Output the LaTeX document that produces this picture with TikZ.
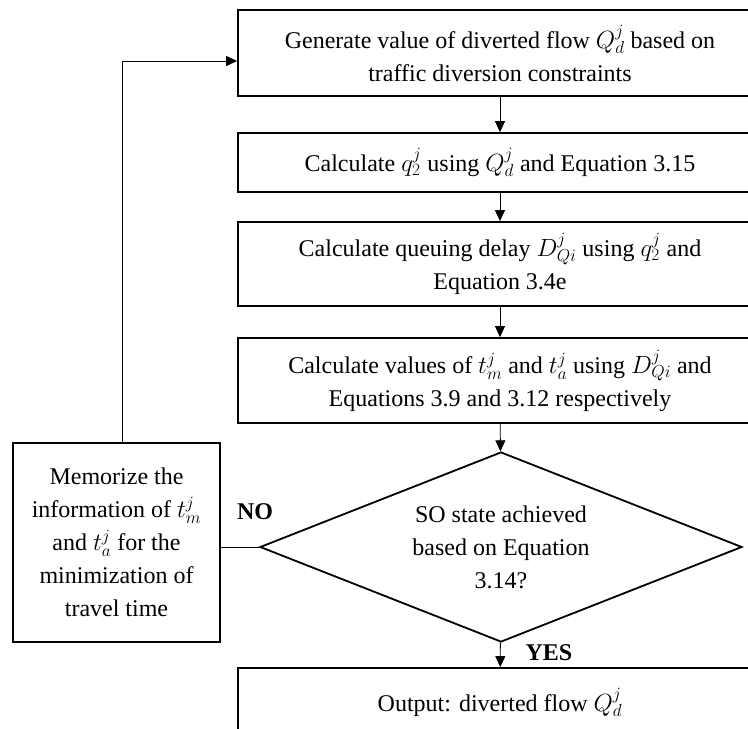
\documentclass[tikz,border=0pt]{standalone}
\usepackage{fontspec}
\setmainfont{Liberation Serif}
\usetikzlibrary{positioning, shapes.geometric, arrows.meta}

\begin{document}
\begin{tikzpicture}[
    x=1pt, y=-1pt,
    font=\fontsize{24}{33}\selectfont,
    box/.style={draw, line width=1.8pt, minimum width=524pt, align=center, inner sep=0pt},
    decision/.style={draw, diamond, aspect=2.5, line width=1.8pt, minimum width=482pt, minimum height=190pt, inner sep=0pt, align=center},
    link/.style={line width=0.8pt, -{Triangle[length=11pt, width=10pt]}},
    tag/.style={font=\fontsize{24}{28}\selectfont\bfseries}
]

% Canvas
\useasboundingbox (0,0) rectangle (748,729);
\clip (0,0) rectangle (748,729);

% Dimensions
\def\midx{500}

% Main column
\node[box, minimum height=86pt] (gen) at (\midx,53) {Generate value of diverted flow $Q_d^j$ based on\\traffic diversion constraints};
\node[box, minimum height=59pt] (calcq) at (\midx,162.5) {Calculate $q_2^j$ using $Q_d^j$ and Equation 3.15};
\node[box, minimum height=84pt] (delay) at (\midx,264) {Calculate queuing delay $D_{Qi}^j$ using $q_2^j$ and\\Equation 3.4e};
\node[box, minimum height=85pt] (times) at (\midx,380.5) {Calculate values of $t_m^j$ and $t_a^j$ using $D_{Qi}^j$ and\\Equations 3.9 and 3.12 respectively};
\node[decision] (so) at (501,547) {SO state achieved\\based on Equation\\3.14?};
\node[box, minimum height=68pt] (out) at (\midx,702) {Output: diverted flow $Q_d^j$};

% Feedback box
\node[box, minimum width=207pt, minimum height=199pt] (mem) at (116.5,542.5) {Memorize the\\information of $t_m^j$\\and $t_a^j$ for the\\minimization of\\travel time};

% Connectors
\draw[link] (gen) -- (calcq);
\draw[link] (calcq) -- (delay);
\draw[link] (delay) -- (times);
\draw[link] (times) -- (so);
\draw[link] (so) -- (out);
\draw[line width=0.8pt] (so.west) -- (so.west -| mem.east);
\draw[link] ([xshift=6pt]mem.north) |- ([yshift=-8pt]gen.west);

% Labels
\node[tag] (no) at (255,512) {NO};
\node[tag] (yes) at (549,653) {YES};

\end{tikzpicture}
\end{document}
